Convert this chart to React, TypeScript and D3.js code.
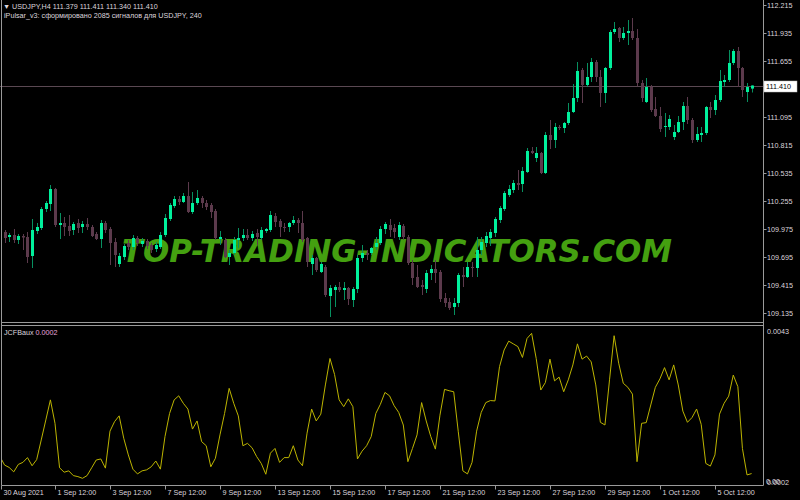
import React, { useEffect, useRef } from "react";
import * as d3 from "d3";

// USDJPY H4 candles, 30 Aug 2021 12:00 .. 6 Oct 2021
const opens = [
  109.835, 109.945, 109.895, 109.915, 109.865, 109.905, 109.895, 109.705, 109.955, 109.985,
  110.175, 110.225, 110.375, 110.015, 110.035, 110.005, 109.965, 110.035, 109.995, 110.025,
  109.995, 109.925, 109.875, 110.035, 109.975, 109.845, 109.625, 109.695, 109.835, 109.795,
  109.885, 109.825, 109.855, 109.815, 109.775, 109.795, 109.915, 110.075, 110.205, 110.275,
  110.245, 110.305, 110.145, 110.235, 110.285, 110.235, 110.215, 110.155, 109.875, 109.865,
  109.695, 109.735, 109.865, 109.885, 109.915, 109.885, 109.935, 109.885, 109.955, 109.965,
  110.105, 110.055, 109.995, 109.995, 110.035, 110.065, 110.035, 109.885, 109.625, 109.685,
  109.545, 109.595, 109.305, 109.365, 109.395, 109.365, 109.385, 109.265, 109.375, 109.685,
  109.735, 109.735, 109.795, 109.835, 109.975, 110.015, 109.985, 109.895, 110.005, 109.895,
  109.635, 109.495, 109.415, 109.375, 109.535, 109.575, 109.545, 109.285, 109.245, 109.195,
  109.235, 109.515, 109.495, 109.595, 109.585, 109.765, 109.835, 109.885, 109.935, 110.065,
  110.175, 110.315, 110.365, 110.435, 110.425, 110.545, 110.755, 110.685, 110.735, 110.535,
  110.915, 110.865, 110.995, 110.985, 111.035, 111.145, 111.285, 111.565, 111.415, 111.495,
  111.645, 111.495, 111.335, 111.585, 111.945, 111.985, 111.885, 111.935, 111.955, 111.885,
  111.435, 111.245, 111.395, 111.175, 111.105, 110.995, 110.995, 110.895, 110.945, 111.045,
  111.205, 111.065, 110.865, 110.915, 110.935, 111.195, 111.165, 111.265, 111.445, 111.465,
  111.635, 111.755, 111.585, 111.345, 111.379,
];
const highs = [
  109.955, 109.965, 109.935, 109.975, 109.925, 109.925, 109.945, 110.075, 110.035, 110.195,
  110.255, 110.415, 110.385, 110.135, 110.095, 110.115, 110.045, 110.075, 110.055, 110.085,
  110.015, 109.945, 110.065, 110.055, 109.995, 109.885, 109.735, 109.825, 109.865, 109.915,
  109.905, 109.885, 109.875, 109.835, 109.845, 109.945, 110.125, 110.235, 110.305, 110.305,
  110.335, 110.445, 110.345, 110.365, 110.305, 110.265, 110.235, 110.175, 109.955, 109.885,
  109.765, 109.895, 109.985, 109.975, 109.975, 109.955, 109.975, 109.995, 109.985, 110.155,
  110.135, 110.075, 110.035, 110.045, 110.105, 110.085, 110.155, 109.895, 109.715, 109.695,
  109.645, 109.615, 109.415, 109.415, 109.445, 109.445, 109.395, 109.395, 109.715, 109.815,
  109.765, 109.795, 109.895, 110.005, 110.045, 110.075, 110.025, 110.045, 110.025, 109.915,
  109.665, 109.615, 109.465, 109.565, 109.615, 109.665, 109.565, 109.335, 109.285, 109.285,
  109.535, 109.595, 109.645, 109.645, 109.895, 109.895, 109.945, 109.975, 110.095, 110.205,
  110.355, 110.415, 110.465, 110.565, 110.595, 110.785, 110.795, 110.795, 110.745, 110.945,
  111.065, 111.035, 111.015, 111.045, 111.235, 111.425, 111.645, 111.585, 111.635, 111.685,
  111.665, 111.565, 111.595, 111.965, 112.045, 111.995, 111.995, 112.065, 112.085, 111.975,
  111.465, 111.485, 111.415, 111.295, 111.195, 111.135, 111.115, 111.015, 111.105, 111.245,
  111.295, 111.085, 110.995, 110.995, 111.205, 111.245, 111.315, 111.565, 111.515, 111.765,
  111.775, 111.795, 111.595, 111.435, 111.411,
];
const lows = [
  109.795, 109.835, 109.845, 109.835, 109.825, 109.765, 109.635, 109.585, 109.925, 109.965,
  110.145, 110.155, 109.995, 109.875, 109.905, 109.905, 109.915, 109.935, 109.935, 109.965,
  109.895, 109.865, 109.785, 109.935, 109.615, 109.595, 109.595, 109.665, 109.765, 109.765,
  109.805, 109.795, 109.775, 109.735, 109.745, 109.775, 109.895, 110.055, 110.185, 110.215,
  110.235, 110.135, 110.125, 110.215, 110.185, 110.165, 110.085, 109.865, 109.815, 109.685,
  109.615, 109.715, 109.785, 109.855, 109.865, 109.855, 109.815, 109.865, 109.935, 109.945,
  109.995, 109.895, 109.945, 109.945, 110.015, 109.935, 109.845, 109.595, 109.515, 109.545,
  109.535, 109.295, 109.095, 109.195, 109.345, 109.265, 109.215, 109.195, 109.335, 109.645,
  109.665, 109.715, 109.765, 109.815, 109.925, 109.895, 109.885, 109.865, 109.865, 109.615,
  109.415, 109.385, 109.315, 109.335, 109.465, 109.435, 109.245, 109.195, 109.165, 109.115,
  109.195, 109.395, 109.485, 109.495, 109.495, 109.715, 109.795, 109.805, 109.895, 110.035,
  110.155, 110.295, 110.335, 110.365, 110.345, 110.535, 110.725, 110.645, 110.525, 110.525,
  110.775, 110.785, 110.965, 110.935, 111.015, 111.135, 111.245, 111.235, 111.395, 111.445,
  111.445, 111.195, 111.235, 111.565, 111.925, 111.845, 111.865, 111.815, 111.865, 111.405,
  111.245, 111.235, 111.145, 111.095, 110.945, 110.895, 110.965, 110.865, 110.935, 110.965,
  111.025, 110.835, 110.845, 110.845, 110.915, 111.085, 111.115, 111.245, 111.395, 111.445,
  111.615, 111.395, 111.295, 111.245, 111.34,
];
const closes = [
  109.935, 109.885, 109.915, 109.865, 109.905, 109.89, 109.695, 109.965, 109.995, 110.175,
  110.235, 110.375, 110.015, 110.035, 109.995, 109.955, 110.025, 109.985, 110.025, 109.995,
  109.905, 109.875, 110.035, 109.965, 109.835, 109.715, 109.705, 109.805, 109.795, 109.885,
  109.835, 109.855, 109.805, 109.765, 109.815, 109.915, 110.085, 110.215, 110.275, 110.245,
  110.305, 110.145, 110.235, 110.285, 110.235, 110.195, 110.145, 109.885, 109.895, 109.695,
  109.735, 109.865, 109.885, 109.915, 109.885, 109.925, 109.895, 109.965, 109.975, 110.115,
  110.045, 109.995, 109.985, 110.035, 110.065, 110.035, 109.865, 109.645, 109.685, 109.565,
  109.625, 109.315, 109.385, 109.395, 109.365, 109.385, 109.275, 109.375, 109.685, 109.735,
  109.715, 109.785, 109.835, 109.975, 110.025, 109.965, 109.945, 110.015, 109.895, 109.635,
  109.485, 109.395, 109.395, 109.535, 109.575, 109.535, 109.275, 109.235, 109.185, 109.235,
  109.515, 109.495, 109.595, 109.585, 109.765, 109.845, 109.905, 109.945, 110.075, 110.185,
  110.335, 110.375, 110.435, 110.415, 110.555, 110.755, 110.735, 110.735, 110.535, 110.915,
  110.865, 110.995, 110.985, 111.035, 111.145, 111.285, 111.555, 111.415, 111.495, 111.645,
  111.495, 111.335, 111.585, 111.945, 111.975, 111.885, 111.935, 111.955, 111.885, 111.435,
  111.285, 111.395, 111.165, 111.105, 110.975, 111.005, 111.075, 110.945, 111.045, 111.205,
  111.065, 110.865, 110.925, 110.935, 111.195, 111.165, 111.265, 111.455, 111.465, 111.635,
  111.755, 111.585, 111.365, 111.395, 111.41,
];
// JCFBaux indicator values, one per bar
const jcfb = [
  0.00066, 0.00041, 0.00034, 0.00021, 0.00043, 0.00049, 0.00063, 0.00039, 0.00057, 0.00115,
  0.00174, 0.00233, 0.00164, 0.00033, 0.0002, 0.00024, 0.0001, 0.00007, 0.00002, 0.0001,
  0.00033, 0.00056, 0.00059, 0.00032, 0.00141, 0.00169, 0.00186, 0.0012, 0.00071, 0.00029,
  0.00015, 0.00024, 0.00027, 0.00036, 0.00053, 0.00029, 0.00125, 0.00193, 0.00233, 0.00245,
  0.00223, 0.00206, 0.00147, 0.00171, 0.0011, 0.00098, 0.00036, 0.00061, 0.0013, 0.00193,
  0.00267, 0.00223, 0.00186, 0.00098, 0.00105, 0.00092, 0.00066, 0.00046, 0.00014, 0.00076,
  0.0009, 0.00049, 0.00063, 0.00063, 0.00098, 0.00056, 0.00039, 0.00135, 0.00206, 0.00171,
  0.00191, 0.00277, 0.00355, 0.00308, 0.00233, 0.00213, 0.00236, 0.00213, 0.00059, 0.00082,
  0.00098, 0.00125, 0.00193, 0.0022, 0.00255, 0.00245, 0.00216, 0.00196, 0.00159, 0.00051,
  0.0009, 0.0013, 0.00225, 0.00171, 0.00125, 0.00088, 0.00188, 0.00264, 0.0026, 0.00257,
  0.00139, 0.00024, 0.00015, 0.00049, 0.00141, 0.00196, 0.00225, 0.00231, 0.0023, 0.00331,
  0.0038, 0.00406, 0.00398, 0.0039, 0.00358, 0.00414, 0.00429, 0.00355, 0.00262, 0.00284,
  0.00353, 0.00289, 0.003, 0.00257, 0.00292, 0.00336, 0.00398, 0.00353, 0.00362, 0.00345,
  0.00277, 0.00167, 0.00159, 0.00292, 0.00422, 0.00341, 0.00282, 0.0027, 0.0025, 0.00051,
  0.00164, 0.00166, 0.00218, 0.0027, 0.00295, 0.00328, 0.00292, 0.00336, 0.00277, 0.002,
  0.00167, 0.00181, 0.00206, 0.00161, 0.00046, 0.00038, 0.00071, 0.00191, 0.00223, 0.00244,
  0.00306, 0.00272, 0.0009, 0.00012, 0.00016,
];

const priceTicks = [
  112.215, 111.935, 111.655, 111.375, 111.095, 110.815, 110.535, 110.255, 109.975, 109.695,
  109.415, 109.135,
];
const timeLabels = [
  "30 Aug 2021", "1 Sep 12:00", "3 Sep 12:00", "7 Sep 12:00", "9 Sep 12:00", "13 Sep 12:00",
  "15 Sep 12:00", "17 Sep 12:00", "21 Sep 12:00", "23 Sep 12:00", "27 Sep 12:00",
  "29 Sep 12:00", "1 Oct 12:00", "5 Oct 12:00",
];
const timeLabelBars = [0, 12, 24, 36, 48, 60, 72, 84, 96, 108, 120, 132, 144, 156];

const lastPrice = 111.41;

function App() {
  const svgRef = useRef<SVGSVGElement>(null);

  useEffect(() => {
    if (!svgRef.current) return;
    const svg = d3.select(svgRef.current);
    svg.selectAll("*").remove();

    const axisX = 763.5;
    const mainBottom = 322.5;
    const indTop = 325.5;
    const indBottom = 485.5;
    const font = "'Liberation Sans', Arial, sans-serif";
    const txt = "#ddd5dd";
    const frame = "#9a9a9a";

    const x = d3.scaleLinear().domain([0, 164]).range([0, 751.6]);
    const y = d3.scaleLinear().domain([109.135, 112.215]).range([313, 5]);
    const yi = d3.scaleLinear().domain([0, 0.0043]).range([479, 333]);

    svg.append("rect").attr("width", 800).attr("height", 500).attr("fill", "#000");

    const defs = svg.append("defs");
    defs.append("clipPath").attr("id", "mainClip")
      .append("rect").attr("x", 2).attr("y", 0).attr("width", axisX - 2).attr("height", mainBottom);
    defs.append("clipPath").attr("id", "indClip")
      .append("rect").attr("x", 2).attr("y", indTop + 1).attr("width", axisX - 2).attr("height", indBottom - indTop - 1);

    // watermark behind the candles
    svg.append("text")
      .attr("x", 122)
      .attr("y", 262)
      .attr("textLength", 550)
      .attr("lengthAdjust", "spacingAndGlyphs")
      .attr("font-family", "'DejaVu Sans', sans-serif")
      .attr("font-weight", "bold")
      .attr("font-style", "italic")
      .attr("font-size", 32)
      .attr("fill", "#44a010")
      .text("TOP-TRADING-INDICATORS.COM");

    // last price line
    svg.append("line")
      .attr("x1", 0).attr("x2", axisX)
      .attr("y1", Math.round(y(lastPrice)) + 0.5).attr("y2", Math.round(y(lastPrice)) + 0.5)
      .attr("stroke", "#5a4852").attr("stroke-width", 1);

    const bars = d3.range(closes.length);
    const cg = svg.append("g").attr("clip-path", "url(#mainClip)");
    const candle = cg.selectAll("g.c").data(bars).join("g").attr("class", "c");
    const up = (i: number) => closes[i] >= opens[i];

    candle.append("line")
      .attr("x1", (i) => Math.round(x(i)) + 0.5)
      .attr("x2", (i) => Math.round(x(i)) + 0.5)
      .attr("y1", (i) => y(highs[i]))
      .attr("y2", (i) => y(lows[i]))
      .attr("stroke", (i) => (up(i) ? "#079060" : "#5c3a4c"))
      .attr("stroke-width", 1);

    candle.append("rect")
      .attr("x", (i) => Math.round(x(i)) - 1)
      .attr("width", 3)
      .attr("y", (i) => Math.min(y(opens[i]), y(closes[i])))
      .attr("height", (i) => Math.max(1, Math.abs(y(opens[i]) - y(closes[i]))))
      .attr("fill", (i) => (up(i) ? "#00f09c" : "#5c3a4c"));

    // frame
    const fr = svg.append("g").attr("stroke", frame).attr("fill", "none").attr("stroke-width", 1);
    fr.append("line").attr("x1", 1.5).attr("x2", 1.5).attr("y1", 0).attr("y2", indBottom);
    fr.append("line").attr("x1", axisX).attr("x2", axisX).attr("y1", 0).attr("y2", indBottom);
    fr.append("line").attr("x1", 1.5).attr("x2", axisX).attr("y1", mainBottom).attr("y2", mainBottom);
    fr.append("line").attr("x1", 1.5).attr("x2", axisX).attr("y1", indTop).attr("y2", indTop);
    fr.append("line").attr("x1", 1.5).attr("x2", axisX).attr("y1", indBottom).attr("y2", indBottom);

    // price axis
    const pa = svg.append("g");
    priceTicks.forEach((p) => {
      const py = Math.round(y(p)) + 0.5;
      pa.append("line").attr("x1", axisX).attr("x2", axisX + 3).attr("y1", py).attr("y2", py)
        .attr("stroke", frame);
      pa.append("text").attr("x", 767).attr("y", py).attr("dy", "0.35em")
        .attr("font-family", font).attr("font-size", 7.2).attr("fill", txt)
        .text(p.toFixed(3));
    });
    const ly = Math.round(y(lastPrice));
    pa.append("rect").attr("x", 764).attr("y", ly - 5).attr("width", 33).attr("height", 11)
      .attr("fill", "#fff").attr("stroke", "#bbb").attr("stroke-width", 0.5);
    pa.append("text").attr("x", 766).attr("y", ly + 0.5).attr("dy", "0.35em")
      .attr("font-family", font).attr("font-size", 7.2).attr("fill", "#000")
      .text(lastPrice.toFixed(3));

    // indicator panel
    const line = d3.line<number>().x((_, i) => x(i)).y((d) => yi(d));
    svg.append("path")
      .datum(jcfb)
      .attr("clip-path", "url(#indClip)")
      .attr("d", line)
      .attr("fill", "none")
      .attr("stroke", "#bcb400")
      .attr("stroke-width", 1);

    svg.append("text").attr("x", 767).attr("y", 331).attr("dy", "0.35em")
      .attr("font-family", font).attr("font-size", 7.2).attr("fill", txt).text("0.0043");
    svg.append("text").attr("x", 767).attr("y", 482).attr("dy", "0.35em")
      .attr("font-family", font).attr("font-size", 7.2).attr("fill", txt).text("0.0002");
    svg.append("text").attr("x", 766).attr("y", 481).attr("dy", "0.35em")
      .attr("font-family", font).attr("font-size", 7.2).attr("fill", txt).text("0.00");

    const lab = svg.append("text").attr("x", 4).attr("y", 332).attr("dy", "0.35em")
      .attr("font-family", font).attr("font-size", 7.2);
    lab.append("tspan").attr("fill", txt).text("JCFBaux ");
    lab.append("tspan").attr("fill", "#e6a8dc").text("0.0002");

    // time axis
    const ta = svg.append("g");
    timeLabels.forEach((t, k) => {
      const tx = Math.round(x(timeLabelBars[k])) + 0.5;
      ta.append("line").attr("x1", Math.max(tx, 1.5)).attr("x2", Math.max(tx, 1.5))
        .attr("y1", indBottom).attr("y2", indBottom + 4).attr("stroke", frame);
      ta.append("text").attr("x", Math.max(tx, 1.5) + 2).attr("y", 492).attr("dy", "0.35em")
        .attr("font-family", font).attr("font-size", 7.2).attr("fill", txt).text(t);
    });

    // header
    svg.append("text").attr("x", 3).attr("y", 6).attr("dy", "0.35em")
      .attr("font-family", font).attr("font-size", 7.2).attr("fill", txt)
      .text("\u25BC USDJPY,H4  111.379 111.411 111.340 111.410");
    svg.append("text").attr("x", 4).attr("y", 15).attr("dy", "0.35em")
      .attr("font-family", font).attr("font-size", 7.2).attr("fill", txt)
      .text("iPulsar_v3: сформировано 2085 сигналов для USDJPY, 240");
  }, []);

  return (
    <div style={{ position: "fixed", left: 0, top: 0, width: 800, height: 500, background: "#000" }}>
      <svg ref={svgRef} width={800} height={500} style={{ display: "block" }} />
    </div>
  );
}

export default App;
